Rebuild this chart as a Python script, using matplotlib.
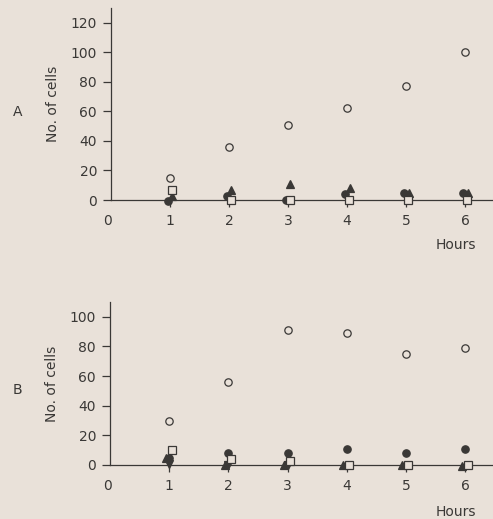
import matplotlib
matplotlib.use("Agg")
import matplotlib.pyplot as plt
from matplotlib.transforms import ScaledTranslation

hours = [1, 2, 3, 4, 5, 6]

# Panel A
a_open_circle = [15, 36, 51, 62, 77, 100]
a_open_square = [7, 0, 0, 0, 0, 0]
a_filled_triangle = [3, 7, 11, 8, 5, 5]
a_filled_circle = [-1, 3, 0, 4, 5, 5]

# Panel B
b_open_circle = [30, 56, 91, 89, 75, 79]
b_open_square = [10, 4, 3, 0, 0, 0]
b_filled_circle = [5, 8, 8, 11, 8, 11]
b_filled_triangle = [5, 0, 0, 0, 0, -1]
b_filled_tri_down = [1, 0, 0, None, None, None]

a_yticks = [0, 20, 40, 60, 80, 100, 120]
b_yticks = [0, 20, 40, 60, 80, 100]
xticks = [0, 1, 2, 3, 4, 5, 6]

BG = "#e9e1d9"
INK = "#3a3836"

fig = plt.figure(figsize=(4.93, 5.19), dpi=100, facecolor=BG)


def setup(ax, ylim, yticks):
    ax.set_facecolor(BG)
    ax.set_xlim(0, 6.47)
    ax.set_ylim(0, ylim)
    for s in ["top", "right"]:
        ax.spines[s].set_visible(False)
    for s in ["left", "bottom"]:
        ax.spines[s].set_color(INK)
        ax.spines[s].set_linewidth(0.9)
    ax.set_yticks(yticks)
    ax.set_xticks(xticks)
    ax.set_xticklabels([str(t) for t in xticks])
    ax.tick_params(axis="y", direction="out", length=6, width=0.9, colors=INK,
                   labelsize=10, pad=4)
    ax.tick_params(axis="x", direction="out", length=5, width=0.9, colors=INK,
                   labelsize=10, pad=5)
    ax.xaxis.get_major_ticks()[0].tick1line.set_visible(False)
    lbl0 = ax.get_xticklabels()[0]
    lbl0.set_transform(lbl0.get_transform() +
                       ScaledTranslation(-3 / 100, 0, fig.dpi_scale_trans))
    ax.set_ylabel("No. of cells", fontsize=10, color=INK, labelpad=8)


def pts(ax, xs, ys, marker, filled, dx=0.0, ms=5.3):
    px = [x + dx for x, y in zip(xs, ys) if y is not None]
    py = [y for y in ys if y is not None]
    ax.plot(px, py, linestyle="none", marker=marker, markersize=ms,
            markerfacecolor=INK if filled else BG, markeredgecolor=INK,
            markeredgewidth=0.9, clip_on=False, zorder=3)


# Panel A
axA = fig.add_axes([111 / 493, (519 - 200) / 519, 382 / 493, 192 / 519])
setup(axA, 130, a_yticks)
pts(axA, hours, a_open_circle, "o", False)
pts(axA, hours, a_filled_circle, "o", True, dx=-0.04)
pts(axA, hours, a_filled_triangle, "^", True, dx=0.04)
pts(axA, hours, a_open_square, "s", False, dx=0.03)
axA.text(0.955, -0.20, "Hours", transform=axA.transAxes, ha="right",
         va="top", fontsize=10, color=INK)
fig.text(18 / 493, 1 - 112 / 519, "A", fontsize=10, color=INK,
         ha="center", va="center")

# Panel B
axB = fig.add_axes([110 / 493, (519 - 465) / 519, 383 / 493, 163 / 519])
setup(axB, 110, b_yticks)
pts(axB, hours, b_open_circle, "o", False)
pts(axB, hours, b_filled_circle, "o", True)
pts(axB, hours, b_filled_triangle, "^", True, dx=-0.06)
pts(axB, hours, b_filled_tri_down, "v", True)
pts(axB, hours, b_open_square, "s", False, dx=0.04)
axB.text(0.955, -0.245, "Hours", transform=axB.transAxes, ha="right",
         va="top", fontsize=10, color=INK)
fig.text(17 / 493, 1 - 390 / 519, "B", fontsize=10, color=INK,
         ha="center", va="center")

fig.savefig("out.png", dpi=100, facecolor=BG)
